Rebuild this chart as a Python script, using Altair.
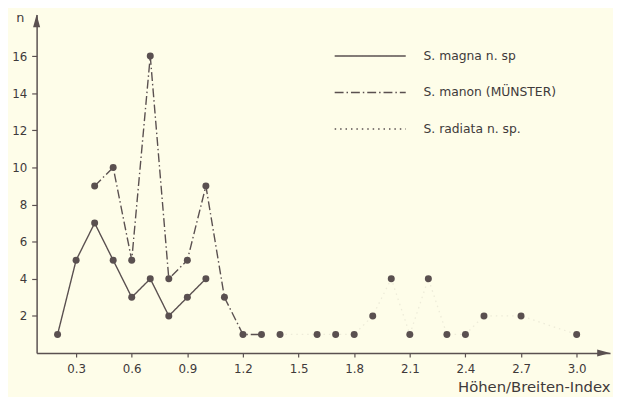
import altair as alt
import pandas as pd

# ---- data ----
x_magna = [0.2, 0.3, 0.4, 0.5, 0.6, 0.7, 0.8, 0.9, 1.0]
n_magna = [1, 5, 7, 5, 3, 4, 2, 3, 4]

x_manon = [0.4, 0.5, 0.6, 0.7, 0.8, 0.9, 1.0, 1.1, 1.2, 1.3]
n_manon = [9, 10, 5, 16, 4, 5, 9, 3, 1, 1]

x_radiata = [1.4, 1.6, 1.7, 1.8, 1.9, 2.0, 2.1, 2.2, 2.3, 2.4, 2.5, 2.7, 3.0]
n_radiata = [1, 1, 1, 1, 2, 4, 1, 4, 1, 1, 2, 2, 1]

series = ["magna", "manon", "radiata"]
labels = ["S. magna n. sp", "S. manon (MÜNSTER)", "S. radiata n. sp."]
x_ticks = [0.3, 0.6, 0.9, 1.2, 1.5, 1.8, 2.1, 2.4, 2.7, 3.0]
y_ticks = [2, 4, 6, 8, 10, 12, 14, 16]

# ---- styling ----
INK = "#5a5050"
TEXT = "#3f3a3a"
BG = "#fefde9"
FONT = "DejaVu Sans"
W, H = 581, 343
dash_range = [[1, 0], [9, 3, 1.5, 3], [1.5, 4]]

rows = []
for s, xs, ns in [("magna", x_magna, n_magna), ("manon", x_manon, n_manon),
                  ("radiata", x_radiata, n_radiata)]:
    for xv, nv in zip(xs, ns):
        rows.append({"series": s, "x": xv, "n": nv})
df = pd.DataFrame(rows)

xscale = alt.Scale(domain=[0.087, 3.18], nice=False, zero=False)
yscale = alt.Scale(domain=[0, 18.24], nice=False, zero=False)
dash_scale = alt.Scale(domain=series, range=dash_range)

xenc = alt.X("x:Q", scale=xscale, axis=alt.Axis(
    values=x_ticks, format=".1f", title="Höhen/Breiten-Index",
    grid=False, tickSize=4, labelPadding=7, titleAnchor="end",
    titleAlign="right", titleFontSize=15, titleFontWeight="normal",
    titlePadding=5, titleColor=TEXT, labelColor=TEXT, labelFontSize=12,
    domainColor=INK, domainWidth=1.5, tickColor=INK, tickWidth=1.2,
    labelFont=FONT, titleFont=FONT))
yenc = alt.Y("n:Q", scale=yscale, axis=alt.Axis(
    values=y_ticks, title="n", grid=False, tickSize=5, labelPadding=5,
    titleAngle=0, titleX=-17, titleY=3, titleAlign="center",
    titleBaseline="middle", titleFontSize=13, titleFontWeight="normal",
    titleColor=TEXT, labelColor=TEXT, labelFontSize=12,
    domainColor=INK, domainWidth=1.5, tickColor=INK, tickWidth=1.2,
    labelFont=FONT, titleFont=FONT))
yplain = alt.Y("n:Q", scale=yscale, axis=None)

main_lines = alt.Chart(df).transform_filter(
    alt.datum.series != "radiata"
).mark_line(color=INK, strokeWidth=1.4).encode(
    x=xenc, y=yenc,
    strokeDash=alt.StrokeDash("series:N", scale=dash_scale, legend=None),
)
faint_line = alt.Chart(df).transform_filter(
    alt.datum.series == "radiata"
).mark_line(color=INK, strokeWidth=1.3, opacity=0.1).encode(
    x="x:Q", y=yplain,
    strokeDash=alt.StrokeDash("series:N", scale=dash_scale, legend=None),
)
points = alt.Chart(df).mark_circle(color=INK, size=50, opacity=1).encode(
    x="x:Q", y=yplain)

one = pd.DataFrame({"a": [0]})
arrow_x = alt.Chart(one).mark_point(
    shape="M-1,-0.55L1,0L-1,0.55Z", size=170, filled=True, color=INK, opacity=1
).encode(x=alt.value(W - 6.5), y=alt.value(H))
arrow_y = alt.Chart(one).mark_point(
    shape="M-0.55,1L0,-1L0.55,1Z", size=170, filled=True, color=INK, opacity=1
).encode(x=alt.value(0), y=alt.value(6.5))

leg_df = pd.DataFrame({"series": series, "label": labels, "row": [0, 1, 2]})
leg_y = alt.Y("row:Q", scale=alt.Scale(domain=[0, 2], range=[42, 116]), axis=None)
leg_lines = alt.Chart(leg_df).mark_rule(color=INK, strokeWidth=1.6).encode(
    x=alt.value(302), x2=alt.value(374), y=leg_y,
    strokeDash=alt.StrokeDash("series:N", scale=dash_scale, legend=None),
)
leg_text = alt.Chart(leg_df).mark_text(
    align="left", baseline="middle", font=FONT, fontSize=12.5, color=TEXT
).encode(x=alt.value(392), y=leg_y, text="label:N")

chart = alt.layer(main_lines, faint_line, points, arrow_x, arrow_y,
                  leg_lines, leg_text).resolve_scale(
    y="independent"
).properties(
    width=W, height=H, background=BG,
    padding={"left": 29, "top": 4, "right": 3, "bottom": 42},
    autosize=alt.AutoSizeParams(type="none"),
).configure_view(stroke=None)

chart.save("out.html", embed_options={"renderer": "svg", "actions": False})
